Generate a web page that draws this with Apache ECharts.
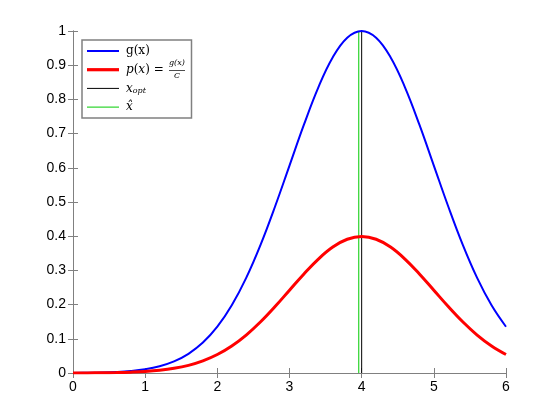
<!DOCTYPE html>
<html><head><meta charset="utf-8">
<script src="https://cdn.jsdelivr.net/npm/echarts@6/dist/echarts.min.js"></script>
<style>html,body{margin:0;padding:0;background:#fff}#c{width:560px;height:420px}</style>
</head><body><div id="c"></div>
<script>
var xs = [0,0.2,0.4,0.6,0.8,1,1.2,1.4,1.6,1.8,2,2.2,2.4,2.6,2.8,3,3.2,3.4,3.6,3.8,4,4.2,4.4,4.6,4.8,5,5.2,5.4,5.6,5.8,6];
var gVals = [0.0003,0.0007,0.0015,0.0031,0.0060,0.0111,0.0198,0.0340,0.0561,0.0889,0.1353,0.1979,0.2780,0.3753,0.4868,0.6065,0.7261,0.8353,0.9231,0.9802,1.0,0.9802,0.9231,0.8353,0.7261,0.6065,0.4868,0.3753,0.2780,0.1979,0.1353];
var pVals = [0.0001,0.0003,0.0006,0.0012,0.0024,0.0044,0.0079,0.0136,0.0224,0.0355,0.0540,0.0790,0.1109,0.1497,0.1942,0.2420,0.2897,0.3332,0.3683,0.3910,0.3989,0.3910,0.3683,0.3332,0.2897,0.2420,0.1942,0.1497,0.1109,0.0790,0.0540];
var xOpt = 4.0;
var xHat = 3.96;

function pairs(a,b){return a.map(function(v,i){return [v,b[i]];});}
var chart = echarts.init(document.getElementById('c'));
var labelFont = {color:'#000', fontFamily:'Liberation Sans, Arial, sans-serif', fontSize:14};
var axisLineStyle = {color:'#808080', width:1};
var serif = 'DejaVu Serif, Liberation Serif, serif';
function lineIcon(h){return 'path://M0,0L32,0L32,'+h+'L0,'+h+'Z';}
chart.setOption({
  animation:false,
  backgroundColor:'#fff',
  grid:{left:73, right:54, top:31, bottom:47},
  xAxis:[{type:'value', min:0, max:6, interval:1, position:'bottom',
    axisLine:{lineStyle:axisLineStyle}, axisTick:{inside:true, length:5, lineStyle:axisLineStyle},
    axisLabel:Object.assign({margin:7}, labelFont), splitLine:{show:false}},
    {type:'value', min:0, max:6, interval:1, position:'top',
    axisLine:{lineStyle:axisLineStyle}, axisTick:{inside:true, length:5, lineStyle:axisLineStyle},
    axisLabel:{show:false}, splitLine:{show:false}}],
  yAxis:[{type:'value', min:0, max:1, interval:0.1, position:'left',
    axisLine:{lineStyle:axisLineStyle}, axisTick:{inside:true, length:5, lineStyle:axisLineStyle},
    axisLabel:Object.assign({margin:7}, labelFont), splitLine:{show:false}},
    {type:'value', min:0, max:1, interval:0.1, position:'right',
    axisLine:{lineStyle:axisLineStyle}, axisTick:{inside:true, length:5, lineStyle:axisLineStyle},
    axisLabel:{show:false}, splitLine:{show:false}}],
  legend:{
    orient:'vertical', left:82, top:40, padding:[4,6,4,5],
    backgroundColor:'#fff', borderColor:'#808080', borderWidth:1.5, borderRadius:0,
    itemWidth:32, itemHeight:14, itemGap:4.7, z:10,
    data:[
      {name:'g', icon:lineIcon(2)},
      {name:'p', icon:lineIcon(3.2)},
      {name:'xopt', icon:lineIcon(1)},
      {name:'xhat', icon:lineIcon(1)}
    ],
    formatter:function(n){
      if(n==='g') return '{r|g(x)}';
      if(n==='p') return '{i|p}{r|(}{i|x}{r|) = }{sp|}';
      if(n==='xopt') return '{i|x}{s|opt}';
      return '{i|x\u0302}';
    },
    textStyle:{lineHeight:14, padding:[0,0,0,2], rich:{
      r:{fontFamily:serif, fontSize:12, color:'#000'},
      i:{fontFamily:serif, fontStyle:'italic', fontSize:12, color:'#000'},
      s:{fontFamily:serif, fontStyle:'italic', fontSize:8, color:'#000', padding:[6,0,0,0]},
      sp:{width:18}
    }}
  },
  graphic:[
    {type:'text', z:100, zlevel:1, left:169, top:59, style:{text:'g(x)', font:'italic 8px DejaVu Serif, serif', fill:'#000'}},
    {type:'line', z:100, zlevel:1, shape:{x1:169, y1:70.5, x2:185, y2:70.5}, style:{stroke:'#000', lineWidth:0.7}},
    {type:'text', z:100, zlevel:1, left:174, top:72, style:{text:'C', font:'italic 8px DejaVu Serif, serif', fill:'#000'}}
  ],
  series:[
    {name:'g', type:'line', data:pairs(xs,gVals), smooth:0.4, symbol:'none', lineStyle:{color:'#0000ff', width:2}, itemStyle:{color:'#0000ff'}, z:3},
    {name:'p', type:'line', data:pairs(xs,pVals), smooth:0.4, symbol:'none', lineStyle:{color:'#ff0000', width:3}, itemStyle:{color:'#ff0000'}, z:3},
    {name:'xopt', type:'line', data:[[xOpt,0],[xOpt,1]], symbol:'none', lineStyle:{color:'#000', width:1}, itemStyle:{color:'#000'}, z:2},
    {name:'xhat', type:'line', data:[[xHat,0],[xHat,1]], symbol:'none', lineStyle:{color:'#00cc00', width:1}, itemStyle:{color:'#00cc00'}, z:2}
  ]
});
</script></body></html>
